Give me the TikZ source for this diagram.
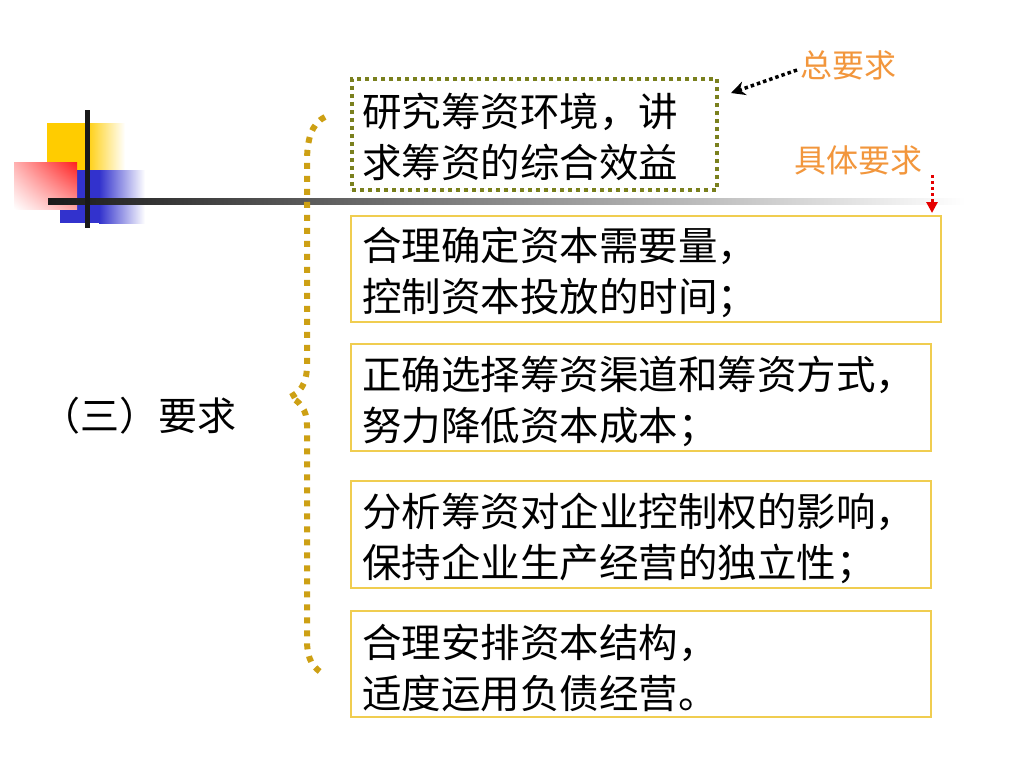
\documentclass[tikz,border=0pt]{standalone}
\usepackage{fontspec}
\setmainfont{Noto Sans CJK SC}
\usetikzlibrary{arrows.meta,shadings}
\definecolor{olivebox}{RGB}{122,128,30}
\definecolor{goldline}{RGB}{240,205,80}
\definecolor{bracegold}{RGB}{205,160,20}
\definecolor{orangetxt}{RGB}{242,150,60}
\definecolor{sqyellow}{RGB}{255,204,0}
\definecolor{sqblue}{RGB}{50,50,205}
\definecolor{sqred}{RGB}{255,30,30}
\tikzset{
  itembox/.style={draw=goldline, line width=1.5pt, anchor=north west, inner sep=0pt},
  mainbox/.style={draw=olivebox, line width=4pt, dash pattern=on 4pt off 4pt,
    anchor=north west, inner sep=0pt},
  boxtext/.style={anchor=west, align=left, inner sep=0pt,
    font=\fontsize{39.5}{51}\selectfont},
  note/.style={text=orangetxt, font=\fontsize{32}{36}\selectfont, inner sep=0pt},
  bracestyle/.style={draw=bracegold, line width=6pt, dash pattern=on 6pt off 7pt},
}
\begin{document}
\begin{tikzpicture}[x=1pt,y=-1pt]
\useasboundingbox (0,0) rectangle (1024,768);
\fill[white] (0,0) rectangle (1024,768);
% decorative squares
\fill[sqyellow] (47,123) rectangle (86,170);
\shade[left color=sqyellow, right color=white] (85,123) rectangle (125,170);
\fill[sqblue] (60,170) rectangle (100,223);
\shade[left color=sqblue, right color=white] (99,170) rectangle (145,223);
\shade[upper right=sqred, upper left=sqred!35!white, lower left=white, lower right=sqred!40!white] (14,162) rectangle (77,209);
% lines
\shade[left color=black!90, right color=white] (48,198.5) rectangle (965,204);
\fill[black!90] (85,110) rectangle (90,228);
% brace
\draw[bracestyle] (325,117) .. controls (311,124) and (307,140) .. (307,162) -- (307,365)
  .. controls (307,385) and (299,393) .. (290,397)
  .. controls (299,401) and (307,409) .. (307,425) -- (307,640)
  .. controls (307,660) and (313,668) .. (325,675);
% boxes
\node[mainbox, minimum width=365pt, minimum height=111pt] (b1) at (350,77) {};
\node[itembox, minimum width=590pt, minimum height=106pt] (b2) at (350,215) {};
\node[itembox, minimum width=580pt, minimum height=107pt] (b3) at (350,343) {};
\node[itembox, minimum width=580pt, minimum height=107pt] (b4) at (350,480) {};
\node[itembox, minimum width=580pt, minimum height=106pt] (b5) at (350,610) {};
\node[boxtext] (t1) at ([xshift=12pt,yshift=-2pt]b1.west) {研究筹资环境，讲\\求筹资的综合效益};
\node[boxtext] (t2) at ([xshift=12pt,yshift=-4pt]b2.west) {合理确定资本需要量，\\控制资本投放的时间；};
\node[boxtext] (t3) at ([xshift=12pt,yshift=-4pt]b3.west) {正确选择筹资渠道和筹资方式，\\努力降低资本成本；};
\node[boxtext] (t4) at ([xshift=12pt,yshift=-4pt]b4.west) {分析筹资对企业控制权的影响，\\保持企业生产经营的独立性；};
\node[boxtext] (t5) at ([xshift=12pt,yshift=-4pt]b5.west) {合理安排资本结构，\\适度运用负债经营。};
% left title
\node[font=\fontsize{39}{44}\selectfont, inner sep=0pt] (title) at (139,416) {（三）要求};
% notes
\node[note] (n1) at (848,65) {总要求};
\node[note] (n2) at (858,160) {具体要求};
\coordinate (a1s) at (797,70);
\coordinate (a1e) at (731,93);
\coordinate (a2s) at (932,175);
\coordinate (a2e) at (932,213);
\draw[black, line width=3.5pt, dash pattern=on 3.5pt off 3pt, -{Stealth[length=14pt,width=14pt]}] (a1s) -- (a1e);
\draw[red!90!black, line width=3pt, dash pattern=on 3pt off 3pt, -{Triangle[length=11pt,width=11pt]}] (a2s) -- (a2e);
\end{tikzpicture}
\end{document}
